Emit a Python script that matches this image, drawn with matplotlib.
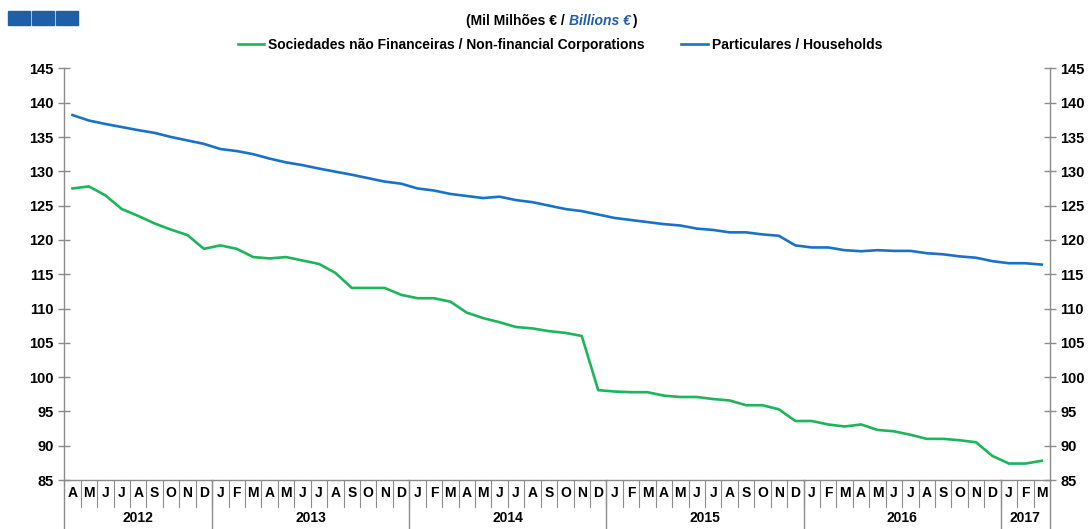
import numpy as np
import matplotlib.pyplot as plt
import matplotlib.transforms as mtransforms
from matplotlib.patches import Rectangle

# Apr 2012 .. Mar 2017, monthly
MONTHS = ["A", "M", "J", "J", "A", "S", "O", "N", "D"] + \
    ["J", "F", "M", "A", "M", "J", "J", "A", "S", "O", "N", "D"] * 4 + \
    ["J", "F", "M"]
YEARS = ["2012", "2013", "2014", "2015", "2016", "2017"]
YEAR_LEN = [9, 12, 12, 12, 12, 3]

corporations = [
    127.5, 127.8, 126.5, 124.5, 123.5, 122.4, 121.5, 120.7, 118.7,
    119.2, 118.7, 117.5, 117.3, 117.5, 117.0, 116.5, 115.2, 113.0, 113.0, 113.0, 112.0,
    111.5, 111.5, 111.0, 109.4, 108.6, 108.0, 107.3, 107.1, 106.7, 106.45, 106.0, 98.1,
    97.9, 97.8, 97.8, 97.3, 97.1, 97.1, 96.8, 96.6, 95.9, 95.9, 95.3, 93.6,
    93.6, 93.1, 92.8, 93.1, 92.3, 92.1, 91.6, 91.0, 91.0, 90.8, 90.5, 88.5,
    87.4, 87.4, 87.8,
]
households = [
    138.2, 137.4, 136.9, 136.45, 136.0, 135.6, 135.0, 134.5, 134.0,
    133.25, 132.95, 132.5, 131.85, 131.3, 130.9, 130.4, 129.95, 129.5, 129.0, 128.5, 128.2,
    127.5, 127.2, 126.7, 126.4, 126.1, 126.3, 125.8, 125.5, 125.0, 124.5, 124.2, 123.7,
    123.2, 122.9, 122.6, 122.3, 122.1, 121.65, 121.45, 121.1, 121.1, 120.8, 120.6, 119.2,
    118.9, 118.9, 118.5, 118.35, 118.5, 118.4, 118.4, 118.06, 117.9, 117.6, 117.4, 116.9,
    116.6, 116.6, 116.4,
]

GREEN = "#1db55a"
BLUE = "#1a72c7"
GREY = "#8c8c8c"

plt.rcParams["font.family"] = ["Liberation Sans", "DejaVu Sans"]

fig = plt.figure(figsize=(10.91, 5.29), dpi=100)
ax = fig.add_axes([0.0589, 0.0926, 0.9035, 0.7781])

x = np.arange(len(MONTHS))
ax.plot(x, corporations, color=GREEN, lw=1.9,
        label="Sociedades não Financeiras / Non-financial Corporations")
ax.plot(x, households, color=BLUE, lw=1.9, label="Particulares / Households")

ax.set_xlim(-0.5, len(MONTHS) - 0.5)
ax.set_ylim(85, 145)
ax.set_yticks(np.arange(85, 146, 5))
ax.tick_params(axis="y", which="both", direction="inout", length=9, width=1,
               color=GREY, labelsize=10.5, pad=3, left=True, right=True,
               labelleft=True, labelright=True)
for lab in ax.get_yticklabels():
    lab.set_fontweight("bold")
ax.set_xticks([])
ax.spines["top"].set_visible(False)
for s in ["left", "right", "bottom"]:
    ax.spines[s].set_color(GREY)
    ax.spines[s].set_linewidth(1)

# category axis below the plot
trans = mtransforms.blended_transform_factory(ax.transData, ax.transAxes)
month_bottom = -0.0644
fig_bottom = -0.1192
for i, m in enumerate(MONTHS):
    ax.text(i, -0.032, m, transform=trans, ha="center", va="center",
            fontsize=10, fontweight="bold")
    if i > 0:
        ax.plot([i - 0.5, i - 0.5], [0, month_bottom], transform=trans,
                color=GREY, lw=0.8, clip_on=False)
start = 0
for yr, n in zip(YEARS, YEAR_LEN):
    ax.text(start + n / 2 - 0.5, -0.092, yr, transform=trans, ha="center",
            va="center", fontsize=10, fontweight="bold")
    ax.plot([start - 0.5, start - 0.5], [0, fig_bottom], transform=trans,
            color=GREY, lw=1, clip_on=False)
    start += n
ax.plot([start - 0.5, start - 0.5], [0, fig_bottom], transform=trans,
        color=GREY, lw=1, clip_on=False)

# header
for k in range(3):
    fig.patches.append(Rectangle(((8 + k * 24) / 1091, 1 - 25 / 529), 22 / 1091,
                                 14 / 529, transform=fig.transFigure,
                                 color="#1f5fa8"))
t1 = fig.text(466 / 1091, 1 - 21 / 529, "(Mil Milhões € / ", ha="left", va="center",
              fontsize=10, fontweight="bold")
t2 = fig.text(0, 0, "Billions €", fontsize=10, fontweight="bold", style="italic",
              color="#1f5fa8")
fig.canvas.draw()
bb = t1.get_window_extent()
t2.set_position((bb.x1 / fig.bbox.width, 1 - 21 / 529))
t2.set_va("center")
bb2 = t2.get_window_extent()
fig.text(bb2.x1 / fig.bbox.width + 0.001, 1 - 21 / 529, ")", ha="left", va="center",
         fontsize=10, fontweight="bold")

ax.legend(loc="center", bbox_to_anchor=(560 / 1091, 1 - 45 / 529),
          bbox_transform=fig.transFigure, ncol=2, frameon=False,
          prop={"weight": "bold", "size": 10},
          handlelength=1.9, handletextpad=0.3, columnspacing=2.6)

fig.savefig("out.png", dpi=100)
